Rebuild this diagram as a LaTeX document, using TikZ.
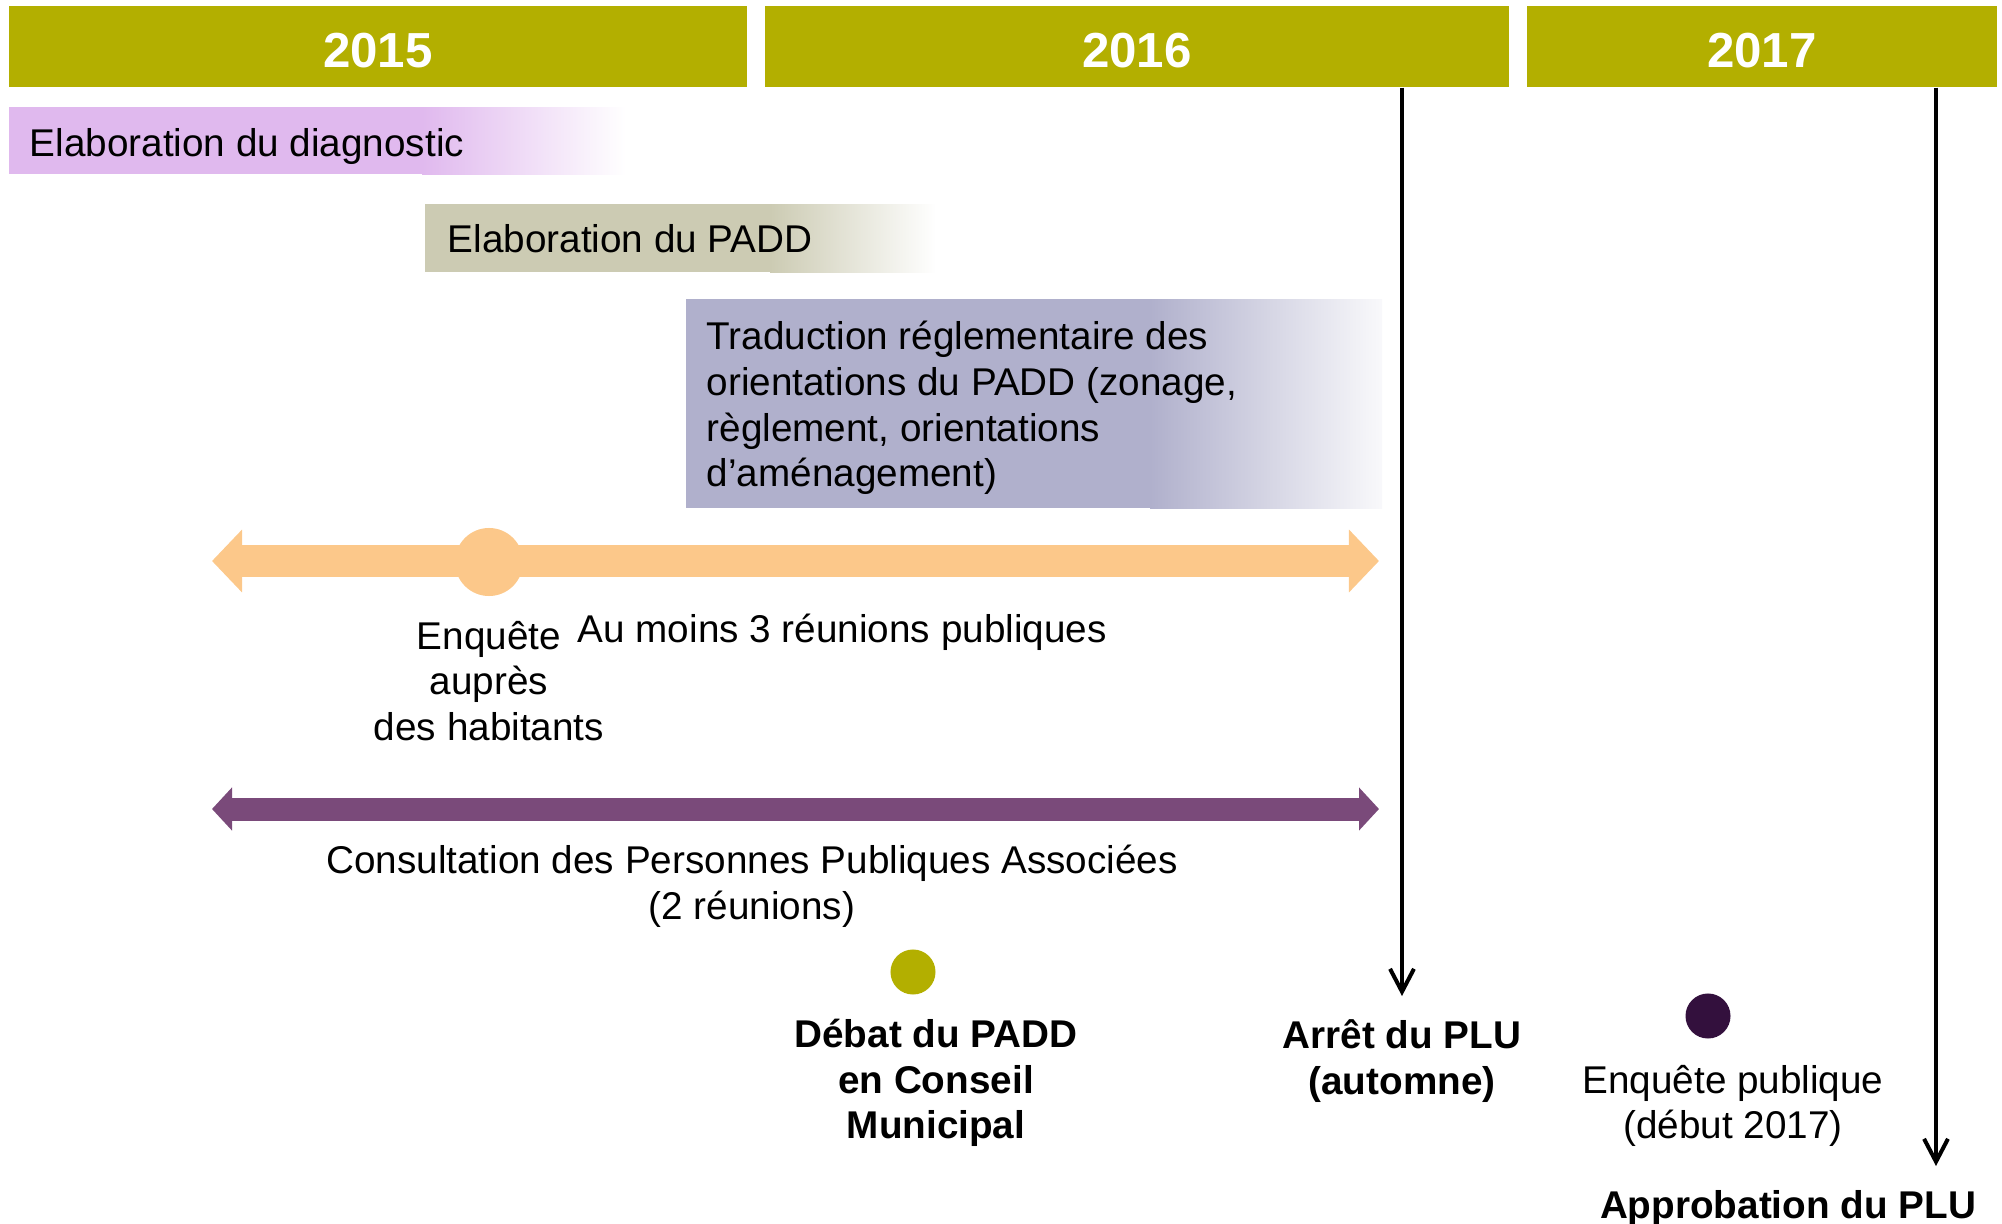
\documentclass[tikz,border=0pt]{standalone}
\usepackage{fontspec}
\setmainfont{Liberation Sans}
\usetikzlibrary{arrows.meta}

\definecolor{yearolive}{HTML}{B3AF00}
\definecolor{diagc}{HTML}{E0B9EE}
\definecolor{paddc}{HTML}{CCCBB3}
\definecolor{tradc}{HTML}{B0B0CC}
\definecolor{orangec}{HTML}{FCC88A}
\definecolor{purplec}{HTML}{7A4A7A}
\definecolor{darkpurple}{HTML}{33103D}

\begin{document}
\begin{tikzpicture}[x=0.01cm,y=-0.01cm]
\tikzstyle{every node}=[inner sep=0pt, font=\fontsize{11}{13}\selectfont]
\tikzstyle{year}=[fill=yearolive, text=white, font=\fontsize{14}{16}\selectfont\bfseries, text height=11.8pt, text depth=0pt, minimum height=0.81cm]
\tikzstyle{dot}=[circle, minimum size=0.45cm]
\tikzstyle{lbl}=[align=center]
\tikzstyle{gras}=[align=center, font=\fontsize{11}{13}\selectfont\bfseries]
\tikzstyle{jalon}=[line width=0.04cm, -{Straight Barb[length=6.5pt,width=6.8pt]}]
\useasboundingbox (0,0) rectangle (2002,1224);

% annees
\node[year, minimum width=7.38cm] (y15) at (378,46.5) {2015};
\node[year, minimum width=7.44cm] (y16) at (1137,46.5) {2016};
\node[year, minimum width=4.70cm] (y17) at (1762,46.5) {2017};

% phases
\shade[left color=diagc, right color=white] (422,107) rectangle (626,174);
\fill[diagc] (9,107) rectangle (423,174);
\node[anchor=west] (diag) at (29,146) {Elaboration du diagnostic};

\shade[left color=paddc, right color=white] (770,204) rectangle (936,272);
\fill[paddc] (425,204) rectangle (771,272);
\node[anchor=west] (padd) at (447,239) {Elaboration du PADD};

\shade[left color=tradc, right color=white!92!tradc] (1150,299) rectangle (1382,508);
\fill[tradc] (686,299) rectangle (1151,508);
\node[anchor=west, align=left] (trad) at (706,408) {Traduction réglementaire des\\orientations du PADD (zonage,\\règlement, orientations\\d’aménagement)};

% concertation
\coordinate (oL) at (212,561);
\coordinate (oR) at (1379,561);
\draw[orangec, line width=0.31cm, {Triangle[length=0.30cm,width=0.61cm]}-{Triangle[length=0.30cm,width=0.61cm]}] (oL) -- (oR);
\node[dot, minimum size=0.68cm, fill=orangec] (enqdot) at (489,562) {};
\node[lbl] (enq) at (489,681) {Enquête\\auprès\\des habitants};
\node[anchor=west] (reunions) at (577,632) {Au moins 3 réunions publiques};

\coordinate (pL) at (212,809);
\coordinate (pR) at (1379,809);
\draw[purplec, line width=0.23cm, {Triangle[length=0.20cm,width=0.42cm]}-{Triangle[length=0.20cm,width=0.42cm]}] (pL) -- (pR);
\node[lbl] (ppa) at (752,886) {Consultation des Personnes Publiques Associées\\(2 réunions)};

% jalons
\node[dot, fill=yearolive] (debatdot) at (913,972) {};
\node[gras] (debat) at (936,1083) {Débat du PADD\\en Conseil\\Municipal};

\coordinate (arretFin) at (1402,996);
\draw[jalon] (arretFin |- y16.south) -- (arretFin);
\node[gras] (arret) at (1402,1061) {Arrêt du PLU\\(automne)};

\node[dot, fill=darkpurple] (epdot) at (1708,1016) {};
\node[lbl] (ep) at (1733,1106) {Enquête publique\\(début 2017)};

\coordinate (approFin) at (1936,1166);
\draw[jalon] (approFin |- y17.south) -- (approFin);
\node[gras] (appro) at (1788,1208) {Approbation du PLU};
\end{tikzpicture}
\end{document}
